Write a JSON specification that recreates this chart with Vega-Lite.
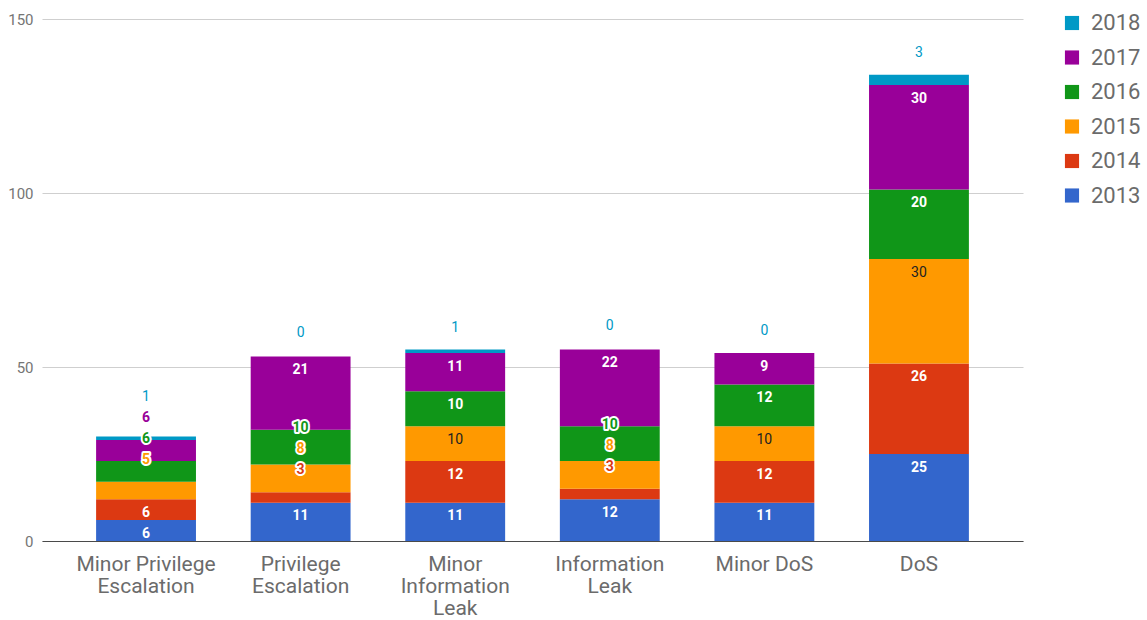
{
  "$schema": "https://vega.github.io/schema/vega-lite/v6.json",
  "width": 981,
  "height": 522,
  "autosize": {"type": "none"},
  "padding": {"left": 42, "top": 19, "right": 124, "bottom": 79},
  "background": "white",
  "config": {
    "font": "Roboto",
    "view": {"stroke": null},
    "axis": {"labelFont": "Roboto", "titleFont": "Roboto"},
    "legend": {
      "orient": "none",
      "legendX": 1019,
      "legendY": -7,
      "symbolType": "square",
      "symbolSize": 200,
      "symbolStrokeWidth": 0,
      "labelFont": "Roboto",
      "labelFontSize": 22,
      "labelColor": "#6b6b6b",
      "labelOffset": 8,
      "rowPadding": 12.5,
      "title": null
    }
  },
  "data": {
    "values": [
      {"type": "Minor Privilege Escalation", "year": "2013", "count": 6},
      {"type": "Minor Privilege Escalation", "year": "2014", "count": 6},
      {"type": "Minor Privilege Escalation", "year": "2015", "count": 5},
      {"type": "Minor Privilege Escalation", "year": "2016", "count": 6},
      {"type": "Minor Privilege Escalation", "year": "2017", "count": 6},
      {"type": "Minor Privilege Escalation", "year": "2018", "count": 1},
      {"type": "Privilege Escalation", "year": "2013", "count": 11},
      {"type": "Privilege Escalation", "year": "2014", "count": 3},
      {"type": "Privilege Escalation", "year": "2015", "count": 8},
      {"type": "Privilege Escalation", "year": "2016", "count": 10},
      {"type": "Privilege Escalation", "year": "2017", "count": 21},
      {"type": "Privilege Escalation", "year": "2018", "count": 0},
      {"type": "Minor Information Leak", "year": "2013", "count": 11},
      {"type": "Minor Information Leak", "year": "2014", "count": 12},
      {"type": "Minor Information Leak", "year": "2015", "count": 10},
      {"type": "Minor Information Leak", "year": "2016", "count": 10},
      {"type": "Minor Information Leak", "year": "2017", "count": 11},
      {"type": "Minor Information Leak", "year": "2018", "count": 1},
      {"type": "Information Leak", "year": "2013", "count": 12},
      {"type": "Information Leak", "year": "2014", "count": 3},
      {"type": "Information Leak", "year": "2015", "count": 8},
      {"type": "Information Leak", "year": "2016", "count": 10},
      {"type": "Information Leak", "year": "2017", "count": 22},
      {"type": "Information Leak", "year": "2018", "count": 0},
      {"type": "Minor DoS", "year": "2013", "count": 11},
      {"type": "Minor DoS", "year": "2014", "count": 12},
      {"type": "Minor DoS", "year": "2015", "count": 10},
      {"type": "Minor DoS", "year": "2016", "count": 12},
      {"type": "Minor DoS", "year": "2017", "count": 9},
      {"type": "Minor DoS", "year": "2018", "count": 0},
      {"type": "DoS", "year": "2013", "count": 25},
      {"type": "DoS", "year": "2014", "count": 26},
      {"type": "DoS", "year": "2015", "count": 30},
      {"type": "DoS", "year": "2016", "count": 20},
      {"type": "DoS", "year": "2017", "count": 30},
      {"type": "DoS", "year": "2018", "count": 3}
    ]
  },
  "encoding": {
    "x": {
      "field": "type",
      "type": "nominal",
      "sort": null,
      "scale": {"paddingInner": 0.354, "paddingOuter": 0.35},
      "axis": {
        "title": null,
        "labelAngle": 0,
        "ticks": false,
        "domain": true,
        "domainColor": "#4a4a4a",
        "domainWidth": 1,
        "labelFontSize": 21,
        "labelColor": "#6b6b6b",
        "labelPadding": 12,
        "labelBaseline": "top",
        "labelLineHeight": 22,
        "labelLimit": 220,
        "labelExpr": "datum.value == 'Minor Privilege Escalation' ? ['Minor Privilege', 'Escalation'] : datum.value == 'Privilege Escalation' ? ['Privilege', 'Escalation'] : datum.value == 'Minor Information Leak' ? ['Minor', 'Information', 'Leak'] : datum.value == 'Information Leak' ? ['Information', 'Leak'] : datum.value"
      }
    }
  },
  "layer": [
    {
      "mark": {"type": "bar"},
      "encoding": {
        "y": {
          "field": "count",
          "type": "quantitative",
          "stack": "zero",
          "scale": {"domain": [0, 150], "nice": false},
          "axis": {
            "title": null,
            "values": [0, 50, 100, 150],
            "ticks": false,
            "domain": false,
            "grid": true,
            "gridColor": "#cfcfcf",
            "gridWidth": 1,
            "labelFontSize": 15,
            "labelColor": "#757575",
            "labelPadding": 9
          }
        },
        "color": {
          "field": "year",
          "type": "nominal",
          "scale": {
            "domain": ["2018", "2017", "2016", "2015", "2014", "2013"],
            "range": ["#0099c6", "#990099", "#109618", "#ff9900", "#dc3912", "#3366cc"]
          }
        },
        "order": {"field": "year", "type": "ordinal", "sort": "ascending"}
      }
    },
    {
      "transform": [
        {"stack": "count", "groupby": ["type"], "sort": [{"field": "year", "order": "ascending"}], "as": ["y0", "y1"]},
        {"calculate": "datum.count <= 5 ? 1 : 0", "as": "small"},
        {"window": [{"op": "sum", "field": "small", "as": "smallSoFar"}], "groupby": ["type"], "sort": [{"field": "year", "order": "ascending"}]},
        {"calculate": "datum.smallSoFar > 0 && datum.count > 10 ? 1 : 0", "as": "bigAfter"},
        {"window": [{"op": "sum", "field": "bigAfter", "as": "bigSoFar"}], "groupby": ["type"], "sort": [{"field": "year", "order": "ascending"}]},
        {"calculate": "datum.smallSoFar > 0 && datum.bigSoFar == 0 ? 1 : 0", "as": "chained"},
        {"window": [{"op": "sum", "field": "chained", "as": "chainIdx"}], "groupby": ["type"], "sort": [{"field": "year", "order": "ascending"}]},
        {"calculate": "datum.chained == 1 && datum.chainIdx == 1 ? datum.y1 : -1", "as": "baseCand"},
        {"joinaggregate": [{"op": "max", "field": "baseCand", "as": "chainBase"}], "groupby": ["type"]},
        {"calculate": "datum.chained == 1 ? 'moved' : (datum.year == '2018' ? 'above' : 'inside')", "as": "place"},
        {"calculate": "datum.place == 'moved' ? datum.chainBase + 6.3 + 6.03 * (datum.chainIdx - 1) : datum.place == 'above' ? datum.y1 + 6.9 : datum.y1 - 3.9", "as": "labelY"}
      ],
      "encoding": {
        "y": {"field": "labelY", "type": "quantitative"},
        "text": {"field": "count", "type": "quantitative"}
      },
      "layer": [
        {
          "transform": [{"filter": "datum.place != 'inside' && datum.year != '2018'"}],
          "mark": {"type": "text", "fontSize": 14, "fontWeight": "bold", "fill": "white", "stroke": "white", "strokeWidth": 4, "strokeJoin": "round", "baseline": "middle"}
        },
        {
          "transform": [{"filter": "datum.place != 'inside' && datum.year != '2018'"}],
          "mark": {"type": "text", "fontSize": 14, "fontWeight": "bold", "baseline": "middle"},
          "encoding": {"color": {"field": "year", "type": "nominal"}}
        },
        {
          "transform": [{"filter": "datum.year == '2018'"}],
          "mark": {"type": "text", "fontSize": 14, "baseline": "middle"},
          "encoding": {"color": {"field": "year", "type": "nominal"}}
        },
        {
          "transform": [{"filter": "datum.place == 'inside' && datum.year != '2015'"}],
          "mark": {"type": "text", "fontSize": 14, "fontWeight": "bold", "baseline": "middle", "fill": "white"}
        },
        {
          "transform": [{"filter": "datum.place == 'inside' && datum.year == '2015'"}],
          "mark": {"type": "text", "fontSize": 14, "baseline": "middle", "fill": "#222222"}
        }
      ]
    }
  ]
}
